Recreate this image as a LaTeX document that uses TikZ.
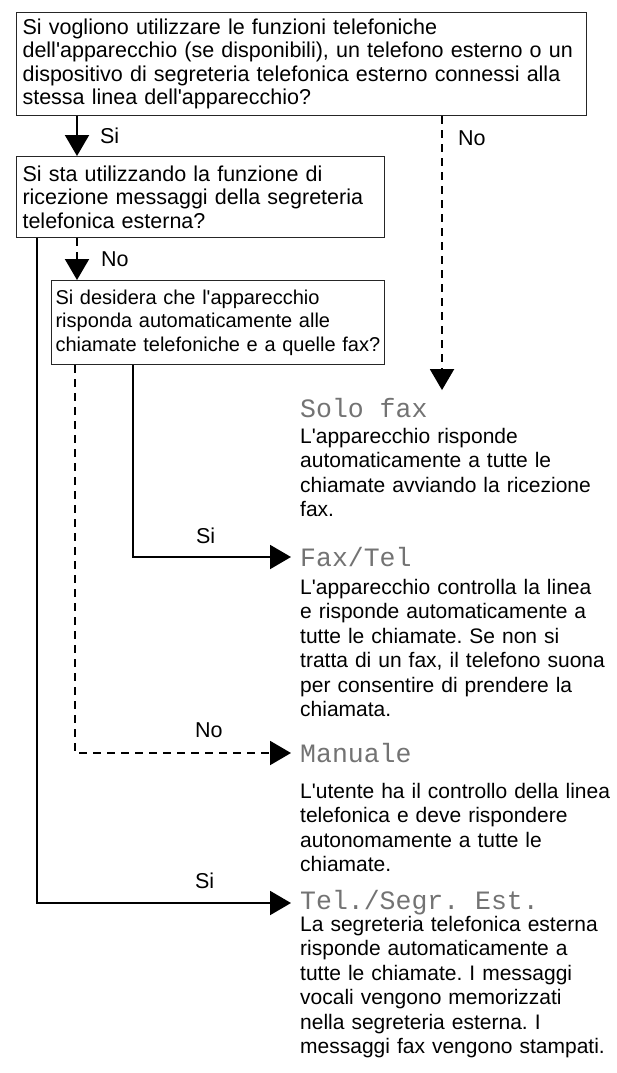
\documentclass[tikz,border=0pt]{standalone}
\usepackage{fontspec}
\setmainfont{Liberation Sans}[Ligatures=TeXOff]
\newfontfamily\lcdfont{Liberation Mono}
\usetikzlibrary{arrows.meta}
\frenchspacing

\begin{document}
\begin{tikzpicture}[%
      x = 1pt, y = -1pt,
      block/.style={%
        draw          = black!85,
        line width    = 1.1pt,
        anchor        = north west,
        align         = left,
        inner xsep    = 6pt,
        inner ysep    = 2pt,
        font          = \fontsize{21.5}{23.5}\selectfont,
      },
      modo/.style={%
        anchor        = west,
        inner xsep    = 9pt,
        inner ysep    = 8pt,
        text          = black!55,
        font          = \lcdfont\fontsize{26.5}{27}\selectfont,
      },
      descr/.style={%
        anchor        = base west,
        inner sep     = 0pt,
        text width    = 317pt,
        align         = left,
        font          = \fontsize{21}{24.5}\selectfont,
      },
      lbl/.style={%
        inner sep     = 0pt,
        font          = \fontsize{21.5}{24}\selectfont,
      },
      siline/.style={%
        line width    = 2pt,
        -{Triangle[length=21pt,width=24pt]},
      },
      noline/.style={%
        siline,
        dash pattern  = on 8pt off 6pt,
      },
      ]

      \useasboundingbox (0,0) rectangle (617,1073);

      \node[block, text width=558pt, minimum height=103pt] (Uso-Tel) at (16,12) {Si vogliono utilizzare le funzioni telefoniche\\dell'apparecchio (se disponibili), un telefono esterno o un\\dispositivo di segreteria telefonica esterno connessi alla\\stessa linea dell'apparecchio?};
      \node[block, text width=356pt, minimum height=81pt] (Segr-Est) at (16,156) {Si sta utilizzando la funzione di\\ricezione messaggi della segreteria\\telefonica esterna?};
      \node[block, inner xsep=4pt, text width=325pt, minimum height=84pt, font=\fontsize{20}{23.5}\selectfont] (Risp-Auto) at (51,280) {Si desidera che l'apparecchio\\risponda automaticamente alle\\chiamate telefoniche e a quelle fax?};

      \node[modo] (Solo-Fax) at (291,408) {Solo fax};
      \node[modo] (Fax-Tel) at (291,557) {Fax/Tel};
      \node[modo] (Manuale) at (291,753) {Manuale};
      \node[modo] (Tel-Segr) at (291,903) {Tel./Segr. Est.};

      \node[descr] (Solo-Fax-Txt) at (300,443) {L'apparecchio risponde\\automaticamente a tutte le\\chiamate avviando la ricezione\\fax.};
      \node[descr] (Fax-Tel-Txt) at (300,594) {L'apparecchio controlla la linea\\e risponde automaticamente a\\tutte le chiamate. Se non si\\tratta di un fax, il telefono suona\\per consentire di prendere la\\chiamata.};
      \node[descr] (Manuale-Txt) at (300,798) {L'utente ha il controllo della linea\\telefonica e deve rispondere\\autonomamente a tutte le\\chiamate.};
      \node[descr] (Tel-Segr-Txt) at (300,931) {La segreteria telefonica esterna\\risponde automaticamente a\\tutte le chiamate. I messaggi\\vocali vengono memorizzati\\nella segreteria esterna. I\\messaggi fax vengono stampati.};

      \draw[siline] ([xshift=61pt]Uso-Tel.south west) -- node[lbl, right=22pt] {Si} ([xshift=61pt]Segr-Est.north west);
      \draw[noline] ([xshift=426pt]Uso-Tel.south west) -- node[lbl, pos=0.08, right=15pt] {No} ([xshift=151pt]Solo-Fax.north west);

      \draw[noline] ([xshift=61pt]Segr-Est.south west) -- node[lbl, right=23pt] {No} ([xshift=26pt]Risp-Auto.north west);
      \draw[siline] ([xshift=21pt]Segr-Est.south west) |- node[lbl, pos=0.83, above=13pt] {Si} (Tel-Segr.west);

      \draw[siline] ([xshift=82pt]Risp-Auto.south west) |- node[lbl, pos=0.73, above=12pt] {Si} (Fax-Tel.west);
      \draw[noline] ([xshift=24pt]Risp-Auto.south west) |- node[lbl, pos=0.81, above=14pt] {No} (Manuale.west);

    \end{tikzpicture}
\end{document}
